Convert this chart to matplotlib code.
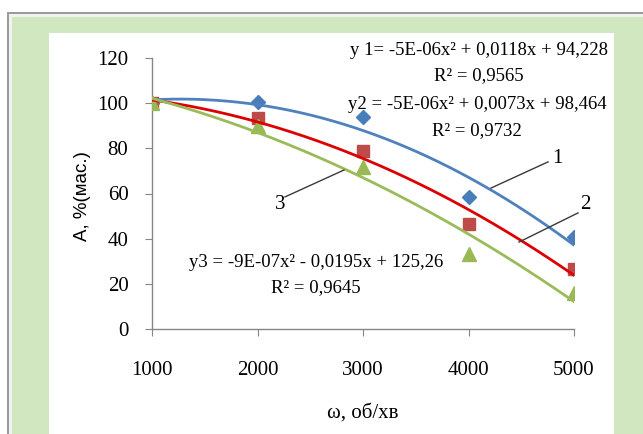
import matplotlib
matplotlib.use("Agg")
import matplotlib.pyplot as plt
import numpy as np
from matplotlib.patches import Rectangle
from matplotlib.lines import Line2D

speed = [1000, 2000, 3000, 4000, 5000]
a1 = [100.0, 100.3, 93.8, 58.3, 40.6]
a2 = [100.0, 93.4, 79.0, 46.5, 26.4]
a3 = [100.0, 89.7, 71.6, 33.2, 15.8]

eq1 = "y 1= -5E-06x² + 0,0118x + 94,228"
r1 = "R² = 0,9565"
eq2 = "y2 = -5E-06x² + 0,0073x + 98,464"
r2 = "R² = 0,9732"
eq3 = "y3 = -9E-07x² - 0,0195x + 125,26"
r3 = "R² = 0,9645"

serif = "Liberation Serif"

fig = plt.figure(figsize=(6.43, 4.34), dpi=100)
fig.patch.set_facecolor("white")

W, H = 643.0, 434.0

# background frame in pixel coords (origin top-left)
bg = fig.add_axes([0, 0, 1, 1], zorder=-10)
bg.set_xlim(0, W)
bg.set_ylim(H, 0)
bg.axis("off")
for x0, y0, x1, y1, col in [(7, 12, W, H, "#9a9a9a"), (9, 14, W, H, "#f2f2f2"),
                            (12, 17, W, H, "#d0e7c0"), (49, 33, 614, H, "white")]:
    bg.add_patch(Rectangle((x0, y0), x1 - x0, y1 - y0, facecolor=col, edgecolor="none"))

ax = fig.add_axes([152 / W, 1 - 329 / H, 422 / W, 271 / H], zorder=1)
ax.set_facecolor("none")

ax.plot(speed, a1, "D", color="#4a7ebb", markersize=7.5, zorder=3)
ax.plot(speed, a2, "s", color="#be4b48", markersize=9, zorder=3)
ax.plot(speed, a3, "^", color="#98b954", markersize=9.5, zorder=3)

xs = np.linspace(1000, 5000, 200)
for vals, col in [(a1, "#4f81bd"), (a2, "#dd0000"), (a3, "#9bbb59")]:
    c = np.polyfit(speed, vals, 2)
    ax.plot(xs, np.polyval(c, xs), color=col, linewidth=2, zorder=4)

ax.set_xlim(1000, 5000)
ax.set_ylim(0, 120)
ax.set_xticks(speed)
ax.set_yticks(range(0, 121, 20))
for s in ["top", "right"]:
    ax.spines[s].set_visible(False)
for s in ["left", "bottom"]:
    ax.spines[s].set_color("#868686")
    ax.spines[s].set_linewidth(1)
ax.tick_params(axis="y", direction="out", length=5, color="#868686", pad=12)
ax.tick_params(axis="x", direction="out", length=5, color="#868686", pad=18)
for lab in ax.get_xticklabels() + ax.get_yticklabels():
    lab.set_fontfamily(serif)
    lab.set_fontsize(15)

ax.set_ylabel("A, %(мас.)", fontfamily="Liberation Sans", fontsize=13.5)
ax.yaxis.set_label_coords(-0.145, 0.49)
ax.set_xlabel("ω, об/хв", fontfamily=serif, fontsize=15)
ax.xaxis.set_label_coords(0.5, -0.275)

# curve labels with leader lines
for txt, tx, ty, lx, ly in [("1", 4839, 75.7, [4213, 4754], [62.4, 74.0]),
                            ("2", 5104, 55.0, [4479, 5038], [38.5, 51.4]),
                            ("3", 2213, 55.0, [2261, 2820], [58.5, 70.4])]:
    ax.add_line(Line2D(lx, ly, color="#3a3a3a", linewidth=1, zorder=5, clip_on=False))
    ax.text(tx, ty, txt, fontfamily=serif, fontsize=15, ha="center", va="center",
            clip_on=False)

# trendline equations
for txt, tx, ty in [(eq1, 4100, 123.2), (r1, 4100, 112.0), (eq2, 4081, 99.4),
                    (r2, 4081, 88.0), (eq3, 2553, 29.4), (r3, 2553, 18.4)]:
    ax.text(tx, ty, txt, fontfamily=serif, fontsize=13.5, ha="center", va="center",
            clip_on=False, zorder=6)

fig.savefig("out.png", dpi=100)
